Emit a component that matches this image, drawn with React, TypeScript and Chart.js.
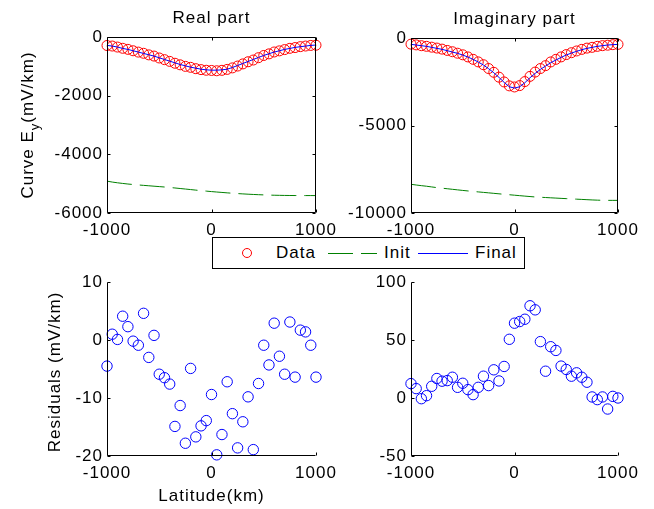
import React, { useEffect, useRef } from "react";
import { Chart, registerables } from "chart.js";

Chart.register(...registerables);

// ---------- data ----------
const latitude = [
  -1000, -950, -900, -850, -800, -750, -700, -650, -600, -550, -500, -450, -400, -350,
  -300, -250, -200, -150, -100, -50, 0, 50, 100, 150, 200, 250, 300, 350, 400, 450, 500,
  550, 600, 650, 700, 750, 800, 850, 900, 950, 1000,
];

const realData = [
  -290, -308, -343, -385, -421, -469, -515, -555, -609, -650, -715, -772, -831, -895,
  -948, -1001, -1034, -1080, -1112, -1134, -1140, -1151, -1136, -1104, -1053, -990, -917,
  -844, -785, -705, -630, -575, -511, -472, -429, -386, -360, -329, -308, -287, -280,
];
const realInit = [
  -4914, -4945, -4970, -4992, -5012, -5029, -5044, -5058, -5072, -5086, -5100, -5114,
  -5130, -5147, -5165, -5183, -5201, -5220, -5238, -5254, -5270, -5285, -5299, -5313,
  -5326, -5338, -5349, -5359, -5368, -5376, -5383, -5389, -5394, -5398, -5401, -5403,
  -5405, -5406, -5406, -5406, -5406,
];
const realFinal = [
  -286, -309, -343, -389, -423, -469, -514, -560, -606, -651, -709, -766, -823, -880,
  -937, -983, -1029, -1063, -1097, -1120, -1131, -1131, -1120, -1097, -1040, -971, -903,
  -834, -766, -697, -629, -571, -514, -469, -423, -389, -354, -331, -309, -286, -274,
];

const imagData = [
  -351, -393, -440, -475, -524, -575, -635, -710, -784, -869, -960, -1081, -1218, -1365,
  -1527, -1745, -1961, -2237, -2511, -2735, -2798, -2720, -2489, -2192, -1947, -1745,
  -1580, -1368, -1219, -1080, -948, -840, -741, -650, -578, -533, -478, -438, -411, -381,
  -363,
];
const imagInit = [
  -8359, -8400, -8437, -8470, -8510, -8550, -8582, -8614, -8646, -8678, -8710, -8740,
  -8768, -8795, -8822, -8849, -8876, -8904, -8931, -8957, -8983, -9009, -9035, -9060,
  -9084, -9100, -9116, -9132, -9148, -9164, -9179, -9194, -9209, -9224, -9239, -9254,
  -9266, -9275, -9277, -9278, -9278,
];
const imagFinal = [
  -363, -401, -439, -477, -534, -592, -649, -725, -802, -878, -973, -1088, -1221, -1374,
  -1546, -1756, -1985, -2252, -2538, -2786, -2863, -2786, -2557, -2271, -2023, -1794,
  -1603, -1412, -1260, -1107, -973, -859, -763, -668, -592, -534, -477, -439, -401, -382,
  -363,
];

const realResidual = [
  -4.5, 1.0, 0.1, 4.1, 2.3, -0.2, -0.9, 4.6, -3.0, 0.8, -5.9, -6.5, -7.6, -14.9, -11.3,
  -17.8, -4.9, -16.7, -14.8, -13.9, -9.4, -19.8, -16.3, -7.2, -12.7, -18.6, -14.1, -9.8,
  -18.9, -7.5, -0.9, -4.3, 2.9, -2.8, -5.9, 3.1, -6.4, 1.7, 1.4, -0.9, -6.4,
];
const imagResidual = [
  12.4, 8.1, -0.6, 2.0, 10.1, 16.8, 14.5, 15.0, 17.9, 9.2, 12.7, 7.2, 2.9, 9.2, 18.8,
  10.7, 24.3, 14.7, 27.2, 50.6, 64.5, 65.9, 67.9, 79.5, 76.0, 48.6, 23.1, 44.2, 41.0,
  27.5, 24.6, 18.8, 21.7, 17.9, 13.6, 0.9, -1.4, 0.9, -9.5, 1.4, 0.0,
];

const xTicks = [-1000, 0, 1000];
const realYTicks = [-6000, -4000, -2000, 0];
const imagYTicks = [-10000, -5000, 0];
const realResTicks = [-20, -10, 0, 10];
const imagResTicks = [-50, 0, 50, 100];

const titles = ["Real part", "Imaginary part"];
const legendLabels = ["Data", "Init", "Final"];

// ---------- style ----------
const FONT = "'Liberation Sans', Arial, Helvetica, sans-serif";
const FS = 17;
const LS = "1px";
const RED = "#ff0000";
const GREEN = "#008000";
const BLUE = "#0000ff";
const INIT_DASH = [25, 8];

const M = { l: 100, t: 36, r: 30, b: 60 };

type Panel = {
  rect: [number, number, number, number]; // left, top, width, height of plot area
  yTicks: number[];
  datasets: any[];
  box: boolean;
  title?: string;
  ylabel?: { parts: [string, string, string]; dx: number; dy: number };
  xlabel?: { text: string; dy: number };
};

const pts = (ys: number[]) => latitude.map((x, i) => ({ x, y: ys[i] }));

const topSets = (data: number[], init: number[], fin: number[]) => [
  {
    label: legendLabels[2],
    data: pts(fin),
    showLine: true,
    borderColor: BLUE,
    borderWidth: 1,
    pointRadius: 0,
    tension: 0,
    clip: false,
    order: 0,
  },
  {
    label: legendLabels[1],
    data: pts(init),
    showLine: true,
    borderColor: GREEN,
    borderWidth: 1,
    borderDash: INIT_DASH,
    pointRadius: 0,
    tension: 0,
    clip: false,
    order: 1,
  },
  {
    label: legendLabels[0],
    data: pts(data),
    showLine: false,
    borderColor: RED,
    backgroundColor: "rgba(0,0,0,0)",
    pointRadius: 5,
    pointBorderWidth: 1,
    clip: false,
    order: 2,
  },
];

const resSet = (res: number[]) => [
  {
    data: pts(res),
    showLine: false,
    borderColor: BLUE,
    backgroundColor: "rgba(0,0,0,0)",
    pointRadius: 5.2,
    pointBorderWidth: 1,
    clip: false,
  },
];

const panels: Panel[] = [
  {
    rect: [107, 37, 209, 176],
    yTicks: realYTicks,
    datasets: topSets(realData, realInit, realFinal),
    box: true,
    title: titles[0],
    ylabel: { parts: ["Curve E", "y", "(mV/km)"], dx: 74, dy: 0 },
  },
  {
    rect: [411, 38, 207, 175],
    yTicks: imagYTicks,
    datasets: topSets(imagData, imagInit, imagFinal),
    box: true,
    title: titles[1],
  },
  {
    rect: [107, 282, 209, 174],
    yTicks: realResTicks,
    datasets: resSet(realResidual),
    box: false,
    ylabel: { parts: ["Residuals (mV/km)", "", ""], dx: 47, dy: 3 },
    xlabel: { text: "Latitude(km)", dy: 45 },
  },
  {
    rect: [411, 282, 207, 174],
    yTicks: imagResTicks,
    datasets: resSet(imagResidual),
    box: false,
  },
];

const matlabAxes = {
  id: "matlabAxes",
  beforeDraw(chart: any) {
    (chart.ctx as any).letterSpacing = LS;
  },
  afterDraw(chart: any, _args: any, opts: any) {
    const { ctx, chartArea: a } = chart;
    const xs = chart.scales.x;
    const ys = chart.scales.y;
    const L = Math.round(a.left) + 0.5;
    const R = Math.round(a.right) - 0.5;
    const T = Math.round(a.top) + 0.5;
    const B = Math.round(a.bottom) - 0.5;
    const TL = 3;
    ctx.save();
    ctx.letterSpacing = LS;
    ctx.strokeStyle = "#000";
    ctx.lineWidth = 1;
    ctx.setLineDash([]);
    ctx.beginPath();
    if (opts.box) {
      ctx.rect(L, T, R - L, B - T);
    } else {
      ctx.moveTo(L, T);
      ctx.lineTo(L, B);
      ctx.lineTo(R, B);
    }
    ys.ticks.forEach((t: any) => {
      const y = Math.round(ys.getPixelForValue(t.value)) + 0.5;
      ctx.moveTo(L, y);
      ctx.lineTo(L + TL, y);
      if (opts.box) {
        ctx.moveTo(R, y);
        ctx.lineTo(R - TL, y);
      }
    });
    xs.ticks.forEach((t: any) => {
      const x = Math.round(xs.getPixelForValue(t.value)) + 0.5;
      ctx.moveTo(x, B);
      ctx.lineTo(x, B - TL);
      if (opts.box) {
        ctx.moveTo(x, T);
        ctx.lineTo(x, T + TL);
      }
    });
    ctx.stroke();

    ctx.fillStyle = "#000";
    ctx.font = `${FS}px ${FONT}`;
    ctx.textBaseline = "alphabetic";
    const cx = (a.left + a.right) / 2;
    const cy = (a.top + a.bottom) / 2;
    if (opts.title) {
      ctx.textAlign = "center";
      ctx.fillText(opts.title, cx, a.top - 14);
    }
    if (opts.xlabel) {
      ctx.textAlign = "center";
      ctx.fillText(opts.xlabel.text, cx, a.bottom + opts.xlabel.dy);
    }
    if (opts.ylabel) {
      const [p1, sub, p3] = opts.ylabel.parts;
      const subFont = `${Math.round(FS * 0.75)}px ${FONT}`;
      const mainFont = `${FS}px ${FONT}`;
      ctx.font = mainFont;
      const w1 = ctx.measureText(p1).width;
      const w3 = p3 ? ctx.measureText(p3).width : 0;
      ctx.font = subFont;
      const w2 = sub ? ctx.measureText(sub).width : 0;
      const total = w1 + w2 + w3;
      ctx.translate(a.left - opts.ylabel.dx, cy + opts.ylabel.dy);
      ctx.rotate(-Math.PI / 2);
      ctx.textAlign = "left";
      let x0 = -total / 2;
      ctx.font = mainFont;
      ctx.fillText(p1, x0, 0);
      x0 += w1;
      if (sub) {
        ctx.font = subFont;
        ctx.fillText(sub, x0, 6);
        x0 += w2;
      }
      if (p3) {
        ctx.font = mainFont;
        ctx.fillText(p3, x0, 0);
      }
    }
    ctx.restore();
  },
};

function PanelChart({ p }: { p: Panel }) {
  const ref = useRef<HTMLCanvasElement | null>(null);
  const [px, py, pw, ph] = p.rect;
  const W = pw + M.l + M.r;
  const H = ph + M.t + M.b;
  useEffect(() => {
    if (!ref.current) return;
    const tickFont = { family: FONT, size: FS };
    const chart = new Chart(ref.current, {
      type: "scatter",
      data: { datasets: p.datasets },
      options: {
        animation: false,
        responsive: false,
        maintainAspectRatio: false,
        events: [],
        layout: { padding: { left: 0, top: M.t, right: M.r, bottom: 0 } },
        plugins: {
          legend: { display: false },
          tooltip: { enabled: false },
          title: { display: false },
          matlabAxes: {
            box: p.box,
            title: p.title,
            ylabel: p.ylabel,
            xlabel: p.xlabel,
          },
        } as any,
        scales: {
          x: {
            type: "linear",
            min: xTicks[0],
            max: xTicks[xTicks.length - 1],
            afterBuildTicks: (s: any) => {
              s.ticks = xTicks.map((v) => ({ value: v }));
            },
            afterFit: (s: any) => {
              s.height = M.b;
            },
            grid: { display: false, drawTicks: false },
            border: { display: false },
            ticks: {
              font: tickFont,
              color: "#000",
              padding: 7,
              maxRotation: 0,
              autoSkip: false,
              callback: (v: any) => String(v),
            },
          },
          y: {
            type: "linear",
            min: p.yTicks[0],
            max: p.yTicks[p.yTicks.length - 1],
            afterBuildTicks: (s: any) => {
              s.ticks = p.yTicks.map((v) => ({ value: v }));
            },
            afterFit: (s: any) => {
              s.width = M.l;
            },
            grid: { display: false, drawTicks: false },
            border: { display: false },
            ticks: {
              font: tickFont,
              color: "#000",
              padding: 4,
              autoSkip: false,
              callback: (v: any) => String(v),
            },
          },
        },
      },
      plugins: [matlabAxes as any],
    });
    return () => chart.destroy();
  }, []);
  return (
    <canvas
      ref={ref}
      width={W}
      height={H}
      style={{ position: "absolute", left: px - M.l, top: py - M.t, width: W, height: H }}
    />
  );
}

function Legend() {
  const text = (s: string, left: number) => (
    <span
      style={{
        position: "absolute",
        left,
        top: 0,
        lineHeight: "30px",
        fontSize: FS,
        fontFamily: FONT,
        letterSpacing: LS,
        color: "#000",
        whiteSpace: "nowrap",
      }}
    >
      {s}
    </span>
  );
  return (
    <div
      style={{
        position: "absolute",
        left: 212,
        top: 237,
        width: 313,
        height: 32,
        boxSizing: "border-box",
        border: "1px solid #000",
        background: "#fff",
      }}
    >
      <div
        style={{
          position: "absolute",
          left: 29,
          top: 10,
          width: 10,
          height: 10,
          boxSizing: "border-box",
          border: `1px solid ${RED}`,
          borderRadius: "50%",
        }}
      />
      {text(legendLabels[0], 63)}
      <div
        style={{
          position: "absolute",
          left: 115,
          top: 15,
          width: 49,
          height: 1,
          background: `repeating-linear-gradient(to right, ${GREEN} 0px, ${GREEN} ${INIT_DASH[0]}px, transparent ${INIT_DASH[0]}px, transparent ${INIT_DASH[0] + INIT_DASH[1]}px)`,
        }}
      />
      {text(legendLabels[1], 171)}
      <div
        style={{ position: "absolute", left: 205, top: 15, width: 50, height: 1, background: BLUE }}
      />
      {text(legendLabels[2], 262)}
    </div>
  );
}

export default function App() {
  return (
    <div
      style={{
        position: "absolute",
        left: 0,
        top: 0,
        width: 654,
        height: 509,
        overflow: "hidden",
        background: "#fff",
      }}
    >
      {panels.map((p, i) => (
        <PanelChart key={i} p={p} />
      ))}
      <Legend />
    </div>
  );
}
